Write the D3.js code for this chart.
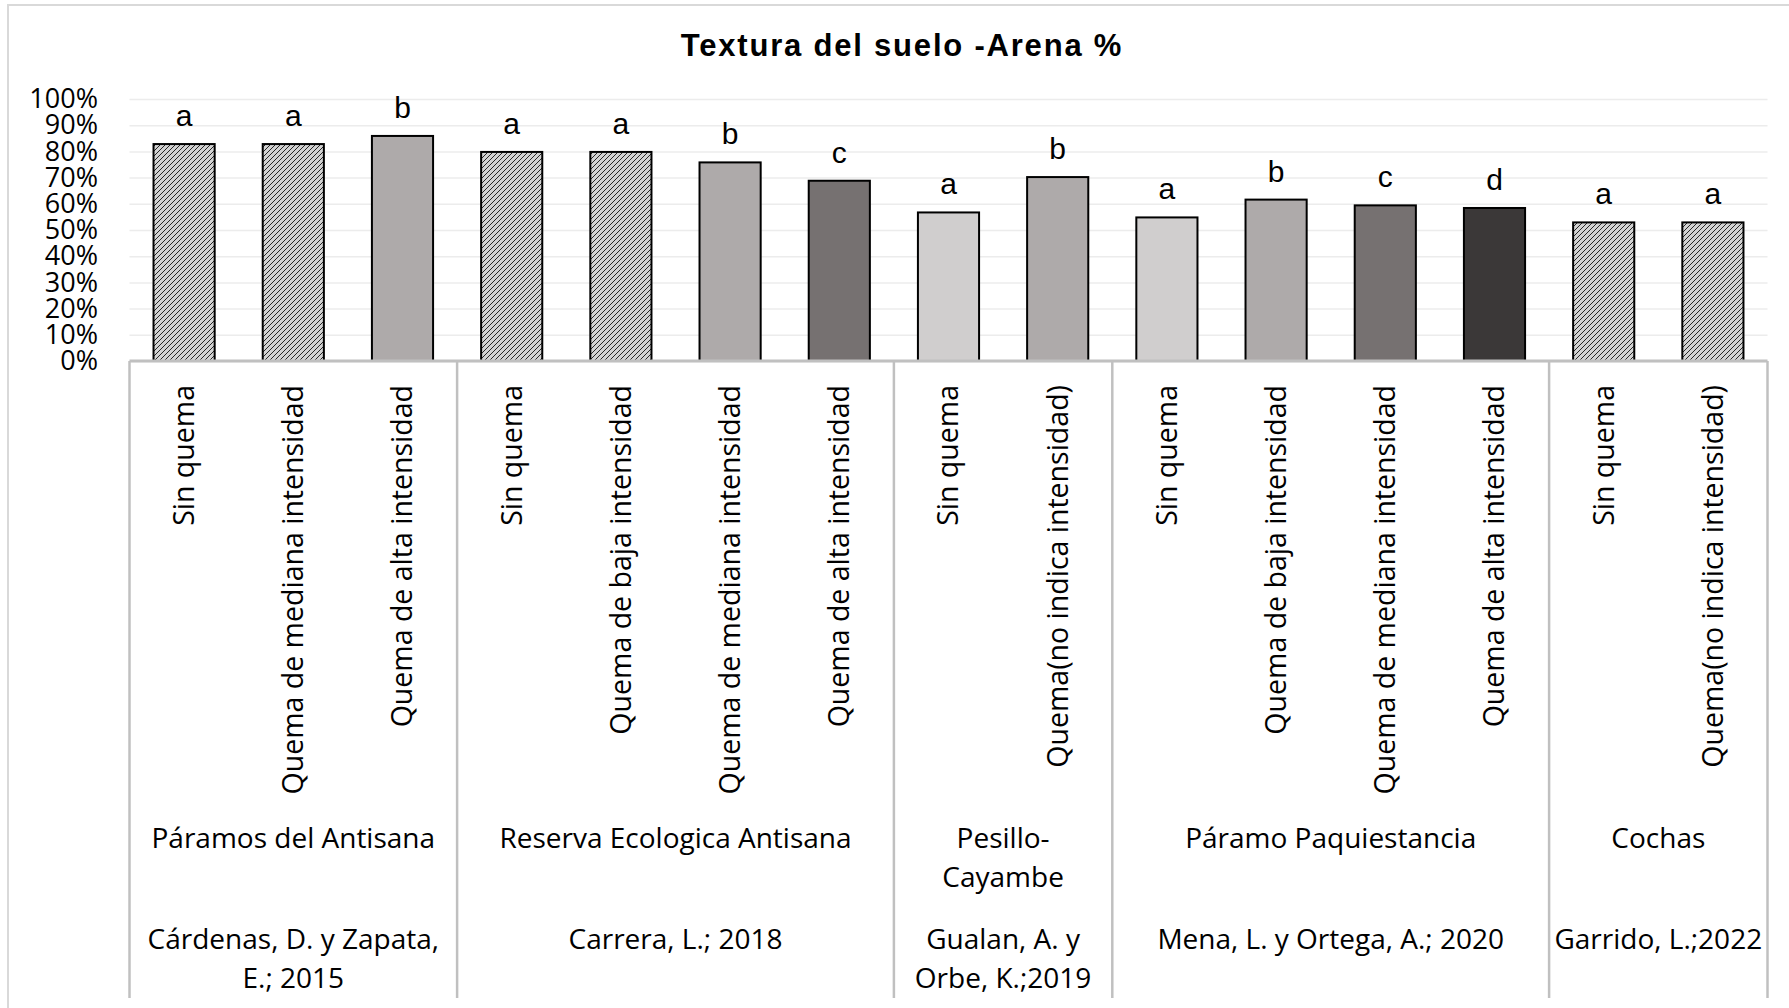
<!DOCTYPE html>
<html>
<head>
<meta charset="utf-8">
<script src="https://cdn.jsdelivr.net/npm/d3@7"></script>
<style>
  body { margin: 0; background: #fff; }
  svg { display: block; }
</style>
</head>
<body>
<svg id="chart" width="1789" height="1008"></svg>
<script>
const width = 1789;
const height = 1008;

// bar categories (one per bar)
const categories = [
    "Sin quema", "Quema de mediana intensidad", "Quema de alta intensidad",
    "Sin quema", "Quema de baja intensidad", "Quema de mediana intensidad", "Quema de alta intensidad",
    "Sin quema", "Quema(no indica intensidad)",
    "Sin quema", "Quema de baja intensidad", "Quema de mediana intensidad", "Quema de alta intensidad",
    "Sin quema", "Quema(no indica intensidad)"
];
const arena = [82.8, 82.8, 85.9, 79.8, 79.8, 75.8, 68.8, 56.7, 70.2, 54.8, 61.6, 59.4, 58.4, 52.9, 52.9];
const letters = ["a", "a", "b", "a", "a", "b", "c", "a", "b", "a", "b", "c", "d", "a", "a"];

// group levels of the category axis
const sites = ["Páramos del Antisana", "Reserva Ecologica Antisana", "Pesillo-\nCayambe", "Páramo Paquiestancia", "Cochas"];
const authors = ["Cárdenas, D. y Zapata,\nE.; 2015", "Carrera, L.; 2018", "Gualan, A. y\nOrbe, K.;2019", "Mena, L. y Ortega, A.; 2020", "Garrido, L.;2022"];
const groupSizes = [3, 4, 2, 4, 2];

const yTicks = [0, 10, 20, 30, 40, 50, 60, 70, 80, 90, 100];

// bar styling
const barFills = ["hatch", "hatch", "#aeaaaa", "hatch", "hatch", "#aeaaaa", "#767171",
    "#d0cece", "#aeaaaa", "#d0cece", "#aeaaaa", "#767171", "#3b3838", "hatch", "hatch"];

const plotLeft = 129.5, plotRight = 1767.5;
const plotTop = 99, plotBottom = 361;
const axisBottom = 998;

const xScale = d3.scaleBand()
    .domain(d3.range(categories.length))
    .range([plotLeft, plotRight])
    .paddingInner(0.44)
    .paddingOuter(0.22);

const yScale = d3.scaleLinear()
    .domain([0, 100])
    .range([plotBottom, plotTop]);

const svg = d3.select("#chart");

// hatch pattern
const defs = svg.append("defs");
const pat = defs.append("pattern")
    .attr("id", "hatch")
    .attr("patternUnits", "userSpaceOnUse")
    .attr("width", 5)
    .attr("height", 5);
pat.append("rect").attr("width", 5).attr("height", 5).attr("fill", "#d2d2d2");
pat.append("path")
    .attr("d", "M-1,6 L6,-1 M-1,1 L1,-1 M4,6 L6,4")
    .attr("stroke", "#262626")
    .attr("stroke-width", 1);

// chart border
svg.append("rect")
    .attr("x", 8).attr("y", 5)
    .attr("width", 1795).attr("height", 1020)
    .attr("fill", "none")
    .attr("stroke", "#d9d9d9")
    .attr("stroke-width", 2);

// title
svg.append("text")
    .attr("x", 902)
    .attr("y", 56)
    .attr("text-anchor", "middle")
    .attr("font-family", "'Liberation Sans', Arial, sans-serif")
    .attr("font-weight", "bold")
    .attr("font-size", 31)
    .attr("letter-spacing", 1.8)
    .attr("fill", "#000")
    .text("Textura del suelo -Arena %");

// gridlines
svg.append("g")
    .attr("transform", `translate(${plotLeft},0)`)
    .call(d3.axisLeft(yScale).tickValues(yTicks).tickSize(-(plotRight - plotLeft)).tickFormat(""))
    .call(g => g.select(".domain").remove())
    .call(g => g.selectAll("line").attr("stroke", "#ececec").attr("stroke-width", 1.5));

// y tick labels
svg.append("g")
    .attr("transform", `translate(98,0)`)
    .call(d3.axisLeft(yScale).tickValues(yTicks).tickSize(0).tickPadding(0).tickFormat(d => d + "%"))
    .call(g => g.select(".domain").remove())
    .call(g => g.selectAll("text")
        .attr("font-family", "'Open Sans', sans-serif")
        .attr("font-size", 27)
        .attr("fill", "#000"));

// bars
svg.append("g")
    .selectAll("rect")
    .data(arena)
    .enter().append("rect")
    .attr("x", (d, i) => xScale(i))
    .attr("y", d => yScale(d))
    .attr("width", xScale.bandwidth())
    .attr("height", d => yScale(0) - yScale(d))
    .attr("fill", (d, i) => barFills[i] === "hatch" ? "url(#hatch)" : barFills[i])
    .attr("stroke", "#000")
    .attr("stroke-width", 2);

// significance letters
svg.append("g")
    .selectAll("text")
    .data(arena)
    .enter().append("text")
    .attr("x", (d, i) => xScale(i) + xScale.bandwidth() / 2)
    .attr("y", d => yScale(d) - 18)
    .attr("text-anchor", "middle")
    .attr("font-family", "'Liberation Sans', Arial, sans-serif")
    .attr("font-size", 30)
    .attr("fill", "#000")
    .text((d, i) => letters[i]);

// category axis line
const axisColor = "#c0c0c0";
svg.append("line")
    .attr("x1", plotLeft).attr("x2", plotRight)
    .attr("y1", plotBottom).attr("y2", plotBottom)
    .attr("stroke", axisColor)
    .attr("stroke-width", 3);

// rotated category labels
svg.append("g")
    .selectAll("text")
    .data(categories)
    .enter().append("text")
    .attr("transform", (d, i) => `translate(${xScale(i) + xScale.bandwidth() / 2},385) rotate(-90)`)
    .attr("text-anchor", "end")
    .attr("dy", "0.35em")
    .attr("font-family", "'Open Sans', sans-serif")
    .attr("font-size", 28.5)
    .attr("fill", "#000")
    .text(d => d);

// group boundaries
const step = xScale.step();
const starts = [0];
groupSizes.forEach((n, i) => starts.push(starts[i] + n));
svg.append("g")
    .selectAll("line")
    .data(starts)
    .enter().append("line")
    .attr("x1", k => plotLeft + k * step)
    .attr("x2", k => plotLeft + k * step)
    .attr("y1", plotBottom)
    .attr("y2", axisBottom)
    .attr("stroke", axisColor)
    .attr("stroke-width", 2.5);

function multiLine(sel, rows, y0) {
    const t = sel.selectAll(null)
        .data(rows)
        .enter().append("text")
        .attr("x", (d, i) => plotLeft + (starts[i] + groupSizes[i] / 2) * step)
        .attr("y", y0)
        .attr("text-anchor", "middle")
        .attr("font-family", "'Open Sans', sans-serif")
        .attr("font-size", 28)
        .attr("fill", "#000");
    t.selectAll("tspan")
        .data(d => d.split("\n"))
        .enter().append("tspan")
        .attr("x", function() { return this.parentNode.getAttribute("x"); })
        .attr("dy", (d, j) => j === 0 ? "0.35em" : "39px")
        .text(d => d);
}

const groupsG = svg.append("g");
multiLine(groupsG, sites, 838);
multiLine(groupsG, authors, 939);
</script>
</body>
</html>
